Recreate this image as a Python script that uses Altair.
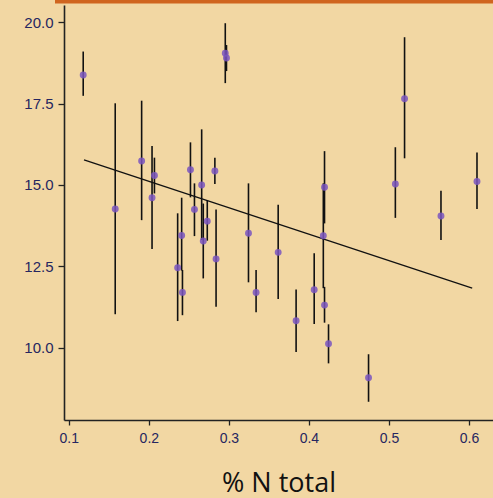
import altair as alt
import pandas as pd

# % N total (x), value (y), error bar low / high
n_total = [0.118, 0.158, 0.191, 0.204, 0.207, 0.236, 0.241, 0.242, 0.252, 0.257,
           0.266, 0.268, 0.273, 0.2825, 0.284, 0.2955, 0.297, 0.3245, 0.334, 0.3616,
           0.384, 0.4066, 0.418, 0.4195, 0.4195, 0.4245, 0.4745, 0.508, 0.5195, 0.565,
           0.61]
value = [18.38, 14.26, 15.74, 14.61, 15.29, 12.46, 13.45, 11.70, 15.47, 14.25,
         15.00, 13.28, 13.89, 15.43, 12.73, 19.05, 18.90, 13.52, 11.70, 12.93,
         10.83, 11.78, 13.44, 14.93, 11.31, 10.12, 9.08, 15.03, 17.65, 14.05,
         15.11]
err_low = [17.74, 11.03, 13.92, 13.03, 14.74, 10.82, 12.37, 11.00, 14.62, 13.43,
           13.31, 12.13, 13.29, 15.03, 11.26, 18.13, 18.50, 12.01, 11.09, 11.50,
           9.87, 10.73, 11.83, 13.82, 10.77, 9.52, 8.34, 13.99, 15.82, 13.31,
           14.26]
err_high = [19.10, 17.51, 17.59, 16.20, 15.84, 14.13, 14.61, 12.39, 16.31, 15.05,
            16.71, 14.43, 14.54, 15.84, 14.25, 19.97, 19.30, 15.05, 12.39, 14.39,
            11.79, 12.90, 15.05, 16.04, 11.87, 10.72, 9.80, 16.16, 19.54, 14.82,
            16.00]

# fitted line end points
fit_x = [0.119, 0.604]
fit_y = [15.77, 11.83]

x_ticks = [0.1, 0.2, 0.3, 0.4, 0.5, 0.6]
y_ticks = [10.0, 12.5, 15.0, 17.5, 20.0]

df = pd.DataFrame({"x": n_total, "y": value, "lo": err_low, "hi": err_high})
fit = pd.DataFrame({"x": fit_x, "y": fit_y})

label_color = "#262660"
xs = alt.Scale(domain=[0.094, 0.630], nice=False, zero=False)
ys = alt.Scale(domain=[7.78, 20.53], nice=False, zero=False)

x_axis = alt.Axis(values=x_ticks, format=".1f", title="% N total", grid=False,
                  domainColor="#222222", domainWidth=1.6, tickColor="#222222",
                  tickWidth=1.3, tickSize=5, labelFont="Liberation Sans",
                  labelFontSize=14, labelColor=label_color, labelPadding=6,
                  titleFont="Open Sans", titleFontSize=27, titleFontWeight="normal",
                  titleColor="#111111", titlePadding=25)
y_axis = alt.Axis(values=y_ticks, format=".1f", title=None, grid=False,
                  domainColor="#222222", domainWidth=1.6, tickColor="#222222",
                  tickWidth=1.3, tickSize=6, labelFont="Liberation Sans",
                  labelFontSize=15, labelColor=label_color, labelPadding=5)

bars = alt.Chart(df).mark_rule(color="#111111", strokeWidth=1.6).encode(
    x=alt.X("x:Q", scale=xs, axis=x_axis),
    y=alt.Y("lo:Q", scale=ys, axis=y_axis),
    y2="hi:Q",
)

points = alt.Chart(df).mark_circle(size=48, color="#7a55c0", opacity=0.85).encode(
    x=alt.X("x:Q", scale=xs),
    y=alt.Y("y:Q", scale=ys),
)

line = alt.Chart(fit).mark_line(color="#111111", strokeWidth=1.3).encode(
    x=alt.X("x:Q", scale=xs),
    y=alt.Y("y:Q", scale=ys),
)

band = alt.Chart(pd.DataFrame({"k": [0]})).mark_rule(
    color="#d0651f", strokeWidth=4).encode(
    x=alt.value(-9), x2=alt.value(440), y=alt.value(-3.5))

chart = alt.layer(band, bars, line, points).properties(
    width=429, height=415,
    background="#F2D7A3",
    padding={"left": 64, "top": 5, "right": 0, "bottom": 78},
    autosize=alt.AutoSizeParams(type="none"),
).configure_view(stroke=None)

chart.save("out.html", embed_options={"renderer": "svg", "actions": False})
